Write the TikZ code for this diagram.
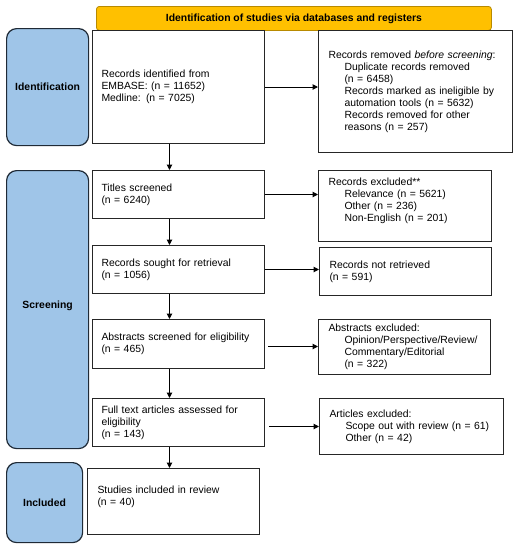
\documentclass[tikz,border=0pt]{standalone}
\usepackage{fontspec}
\setmainfont{Liberation Sans}
\usetikzlibrary{arrows.meta}
\definecolor{phasefill}{HTML}{9FC5E8}
\definecolor{phaseborder}{HTML}{1F2A36}
\definecolor{bannerfill}{HTML}{FFC000}
\definecolor{bannerborder}{HTML}{B88A00}
\newcommand\myind{\hspace*{16pt}}
\begin{document}
\begin{tikzpicture}[x=1pt,y=-1pt,
  every node/.style={font=\fontsize{10.4}{12}\selectfont},
  box/.style={draw=black!85, line width=1pt, inner xsep=9pt, inner ysep=0pt, align=left, anchor=north west},
  phasebox/.style={draw=phaseborder, fill=phasefill, line width=1.2pt, rounded corners=10pt, anchor=north west,
    font=\fontsize{10.4}{12}\selectfont\bfseries, align=center, inner sep=0pt},
  bannerbox/.style={draw=bannerborder, fill=bannerfill, line width=0.8pt, rounded corners=3pt, anchor=north west,
    font=\fontsize{10.4}{12}\selectfont\bfseries, inner sep=0pt},
  arr/.style={-{Triangle[length=5.5pt,width=5.5pt]}, line width=1pt}
]
\useasboundingbox (0,0) rectangle (519,550);

% banner
\node[bannerbox, minimum width=395pt, minimum height=24pt] (banner) at (96,6) {Identification of studies via databases and registers};

% phase labels
\node[phasebox, minimum width=82pt, minimum height=117pt] (idlab) at (6,28) {Identification};
\node[phasebox, minimum width=82pt, minimum height=278pt] (scrlab) at (6,170) {Screening\\[-2pt]\mbox{}};
\node[phasebox, minimum width=76pt, minimum height=80pt] (inclab) at (6,462) {Included};

% left column
\node[box, minimum width=172pt, minimum height=113pt, text width=154pt] (id) at (92,30)
  {Records identified from\\EMBASE: (n = 11652)\\Medline: (n = 7025)};
\node[box, minimum width=172pt, minimum height=48pt, text width=154pt] (tit) at (92,170)
  {Titles screened\\(n = 6240)};
\node[box, minimum width=172pt, minimum height=48pt, text width=154pt] (sou) at (92,245)
  {Records sought for retrieval\\(n = 1056)};
\node[box, minimum width=172pt, minimum height=49pt, text width=154pt] (abs) at (92,319)
  {Abstracts screened for eligibility\\(n = 465)};
\node[box, minimum width=172pt, minimum height=48pt, text width=154pt] (ft) at (92,398)
  {Full text articles assessed for\\eligibility\\(n = 143)};
\node[box, inner xsep=10pt, minimum width=172pt, minimum height=66pt, text width=152pt] (inc) at (87,468)
  {Studies included in review\\(n = 40)\\\mbox{}};

% right column
\node[box, inner xsep=10pt, minimum width=194pt, minimum height=122pt, text width=174pt] (rem) at (318,30)
  {Records removed \textit{before screening}:\\
   \myind Duplicate records removed\\
   \myind (n = 6458)\\
   \myind Records marked as ineligible by\\
   \myind automation tools (n = 5632)\\
   \myind Records removed for other\\
   \myind reasons (n = 257)};
\node[box, inner xsep=10pt, minimum width=173pt, minimum height=71pt, text width=153pt] (exc) at (318,170)
  {Records excluded**\\
   \myind Relevance (n = 5621)\\
   \myind Other (n = 236)\\
   \myind Non-English (n = 201)\\\mbox{}};
\node[box, inner xsep=10pt, minimum width=172pt, minimum height=48pt, text width=152pt] (nr) at (319,247)
  {Records not retrieved\\(n = 591)};
\node[box, inner xsep=10pt, minimum width=172pt, minimum height=55pt, text width=152pt] (absx) at (318,319)
  {Abstracts excluded:\\
   \myind Opinion/Perspective/Review/\\
   \myind Commentary/Editorial\\
   \myind (n = 322)};
\node[box, inner xsep=10pt, minimum width=184pt, minimum height=56pt, text width=164pt] (artx) at (319,398)
  {Articles excluded:\\
   \myind Scope out with review (n = 61)\\
   \myind Other (n = 42)};

% connectors
\coordinate (vx) at (169.5,0);
\coordinate (ya) at (0,346.5);
\coordinate (yb) at (0,426.5);
\draw[arr] (id.east) -- (rem.west |- id.east);
\draw[arr] (tit.east) -- (exc.west |- tit.east);
\draw[arr] (sou.east) -- (nr.west |- sou.east);
\draw[arr, shorten <=3pt] (abs.east |- ya) -- (absx.west |- ya);
\draw[arr, shorten <=4pt] (ft.east |- yb) -- (artx.west |- yb);
\draw[arr] (id.south -| vx) -- (tit.north -| vx);
\draw[arr] (tit.south -| vx) -- (sou.north -| vx);
\draw[arr] (sou.south -| vx) -- (abs.north -| vx);
\draw[arr] (abs.south -| vx) -- (ft.north -| vx);
\draw[arr] (ft.south -| vx) -- (inc.north -| vx);
\end{tikzpicture}
\end{document}
